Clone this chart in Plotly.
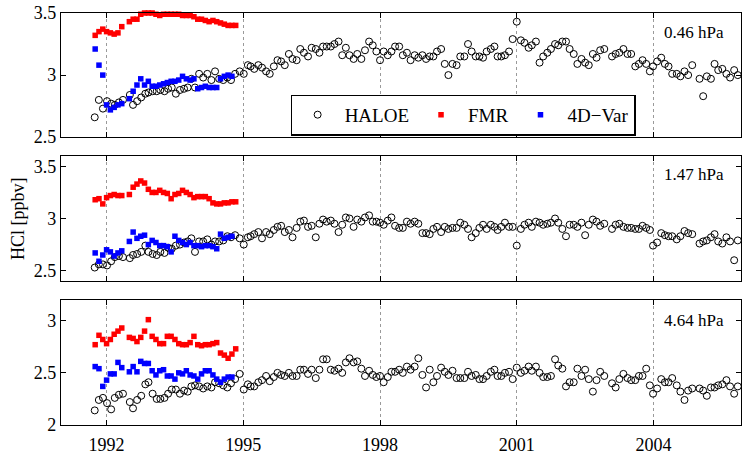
import plotly.graph_objects as go
from plotly.subplots import make_subplots
import pandas as pd

# ---------------- data ----------------
# model (FMR / 4D-Var) monthly time axis Oct 1991 .. Nov 1994
model_months = pd.date_range("1991-10-01", "1994-11-01", freq="MS")
model_t = [d.year + (d.month - 1) / 12 for d in model_months]

fmr_046 = [3.32, 3.35, 3.37, 3.35, 3.34, 3.33, 3.34, 3.39, None,
           3.43, 3.45, 3.45, 3.49, 3.50, 3.50, 3.50, 3.49, 3.48, 3.49,
           3.49, 3.49, 3.49, 3.49, 3.48, 3.48, 3.48, 3.47, 3.45, 3.45,
           3.44, 3.43, 3.44, 3.43, 3.42, 3.41, 3.40, 3.40, 3.40]
var_046 = [3.21, 3.08, 3.00, 2.76, 2.72, 2.74, 2.76, 2.77, None,
           2.81, 2.87, 2.92, 2.97, 2.92, 2.95, 2.91, 2.91, 2.92, 2.93,
           2.94, 2.95, 2.95, 2.96, 2.99, 2.97, 2.96, 2.97, 2.89, 2.90,
           2.91, 2.90, 2.90, 2.90, 2.97, 2.99, 3.00, 2.99]

fmr_147 = [3.18, 3.19, 3.14, 3.20, 3.22, 3.23, 3.22, 3.22, None,
           3.23, 3.30, 3.33, 3.36, 3.34, 3.28, 3.25, 3.25, 3.27, 3.25,
           3.24, 3.19, 3.23, 3.24, 3.27, 3.25, 3.23, 3.20, 3.21, 3.21,
           3.21, 3.19, 3.15, 3.14, 3.14, 3.15, 3.15, 3.16, 3.16]
var_147 = [2.67, 2.59, 2.65, 2.70, 2.68, 2.64, 2.67, 2.69, None,
           2.78, 2.87, 2.81, 2.83, 2.84, 2.75, 2.79, 2.77, 2.74, 2.74,
           2.73, 2.68, 2.83, 2.79, 2.77, 2.75, 2.77, 2.74, 2.74, 2.73,
           2.74, 2.74, 2.73, 2.71, 2.85, 2.81, 2.82, 2.83]

fmr_464 = [2.77, 2.86, 2.82, 2.78, 2.82, 2.87, 2.90, 2.93, None,
           2.84, 2.83, 2.80, 2.84, 2.90, 3.01,
           2.85, 2.82, 2.78, 2.78, 2.85, 2.85, 2.82, 2.78, 2.77, 2.77,
           2.79, 2.85, 2.77, 2.76, 2.77, 2.77, 2.78, 2.79, 2.69, 2.67,
           2.64, 2.68, 2.73]
var_464 = [2.56, 2.54, 2.37, 2.43, 2.49, 2.49, 2.60, 2.55, None,
           2.51, 2.56, 2.51, 2.61, 2.59, 2.59, 2.52, 2.48, 2.52, 2.53,
           2.47, 2.47, 2.44, 2.50, 2.49, 2.52, 2.48, 2.47, 2.44, 2.49,
           2.52, 2.52, 2.48, 2.44, 2.41, 2.44, 2.46, 2.46]

# HALOE observation times (decimal year)
haloe_t = [
    1991.74, 1991.83, 1991.92, 1992.01, 1992.10, 1992.18, 1992.27, 1992.36,
    1992.51, 1992.58, 1992.67, 1992.76, 1992.85, 1992.92, 1993.01, 1993.10,
    1993.18, 1993.27, 1993.35, 1993.43, 1993.52, 1993.61, 1993.70, 1993.78,
    1993.86, 1993.94, 1994.03, 1994.12, 1994.21, 1994.30, 1994.38, 1994.47,
    1994.56, 1994.65, 1994.73, 1994.82, 1994.92, 1995.01, 1995.10,
    1995.16, 1995.24, 1995.33, 1995.41, 1995.50, 1995.58, 1995.67, 1995.75,
    1995.83, 1995.91, 1996.00, 1996.08, 1996.17, 1996.25, 1996.33, 1996.42,
    1996.50, 1996.59, 1996.67, 1996.75, 1996.83, 1996.92, 1997.00, 1997.09,
    1997.17, 1997.25, 1997.33, 1997.42, 1997.50, 1997.59, 1997.67, 1997.76,
    1997.84, 1997.92, 1998.00, 1998.08, 1998.17, 1998.25, 1998.33, 1998.42,
    1998.50, 1998.59, 1998.67, 1998.76, 1998.84, 1998.93, 1999.01, 1999.09,
    1999.17, 1999.25, 1999.34, 1999.42, 1999.50, 1999.59, 1999.68, 1999.76,
    1999.85, 1999.93, 2000.01, 2000.10, 2000.18, 2000.26, 2000.34, 2000.43,
    2000.51,
    2000.58, 2000.66, 2000.74, 2000.83, 2000.91, 2001.00, 2001.09, 2001.17,
    2001.26, 2001.33, 2001.42, 2001.50, 2001.58, 2001.67, 2001.75, 2001.84,
    2001.91, 2002.00, 2002.08, 2002.16, 2002.25, 2002.33, 2002.42, 2002.50,
    2002.58, 2002.67, 2002.75, 2002.83, 2002.92,
    2003.09, 2003.17, 2003.25, 2003.34, 2003.43, 2003.51, 2003.60, 2003.68,
    2003.76, 2003.84, 2003.92, 2003.99, 2004.08, 2004.17, 2004.25, 2004.33,
    2004.41, 2004.51, 2004.59, 2004.68, 2004.76, 2004.85,
    2005.01, 2005.09, 2005.17, 2005.26, 2005.34, 2005.42, 2005.51, 2005.60,
    2005.68, 2005.77, 2005.85,
]

haloe_046 = [
    2.66, 2.80, 2.73, 2.79, 2.77, 2.76, 2.78, 2.80,
    2.84, 2.76, 2.79, 2.82, 2.85, 2.86, 2.87, 2.87, 2.88, 2.87,
    2.89, 2.90, 2.85, 2.88, 2.89, 2.90, 2.97, 2.90, 3.01, 2.98,
    3.01, 2.96, 3.03, 2.97, 2.96, 2.98, 2.96, 3.01, 3.03, 3.01, 3.08,
    3.07, 3.05, 3.08, 3.06, 3.03, 3.01, 3.07, 3.12, 3.11, 3.08,
    3.17, 3.13, 3.12, 3.21, 3.18, 3.15, 3.22, 3.21, 3.18, 3.23,
    3.23, 3.23, 3.25, 3.27, 3.16, 3.22, 3.16, 3.13, 3.17, 3.13,
    3.20, 3.27, 3.24, 3.19, 3.12, 3.19, 3.16, 3.19, 3.23, 3.23,
    3.16, 3.18, 3.12, 3.16, 3.14, 3.16, 3.13, 3.15, 3.15, 3.19,
    3.21, 3.09, 3.00, 3.09, 3.08, 3.15, 3.15, 3.25, 3.19, 3.15,
    3.15, 3.14, 3.19, 3.21, 3.23,
    3.15, 3.15, 3.16, 3.19, 3.29, 3.43, 3.28, 3.26, 3.22, 3.24,
    3.27, 3.10, 3.15, 3.18, 3.21, 3.25, 3.24, 3.27, 3.27, 3.21,
    3.17, 3.09, 3.13, 3.10, 3.08, 3.17, 3.14, 3.20, 3.21,
    3.15, 3.17, 3.18, 3.21, 3.17, 3.17, 3.07, 3.09, 3.12, 3.09,
    3.03, 3.07, 3.11, 3.14, 3.09, 3.07, 3.01, 3.01, 2.99, 3.03,
    3.00, 3.08,
    2.97, 2.83, 2.99, 2.97, 3.09, 3.04, 3.05, 3.01, 2.98, 3.04, 3.00,
]
haloe_147 = [
    2.53, 2.56, 2.56, 2.55, 2.59, 2.63, 2.64, 2.63,
    2.62, 2.65, 2.66, 2.68, 2.74, 2.68, 2.66, 2.65, 2.68, 2.67,
    2.72, 2.71, 2.74, 2.75, 2.77, 2.78, 2.81, 2.68, 2.78, 2.78,
    2.80, 2.75, 2.78, 2.78, 2.79, 2.83, 2.82, 2.84, 2.81, 2.75, 2.82,
    2.83, 2.85, 2.87, 2.81, 2.87, 2.85, 2.89, 2.92, 2.93, 2.87,
    2.89, 2.82, 2.91, 2.97, 2.98, 2.92, 2.93, 2.82, 2.95, 2.99,
    2.97, 2.98, 2.95, 2.87, 2.94, 3.01, 3.00, 2.92, 2.99, 2.97,
    3.01, 3.03, 2.97, 2.97, 2.96, 2.94, 2.98, 3.01, 2.93, 2.91,
    2.91, 2.97, 2.95, 2.97, 2.95, 2.86, 2.86, 2.85, 2.90, 2.92,
    2.87, 2.92, 2.90, 2.91, 2.91, 2.96, 2.94, 2.90, 2.82, 2.86,
    2.91, 2.94, 2.90, 2.94, 2.92,
    2.89, 2.92, 2.96, 2.92, 2.92, 2.74, 2.90, 2.94, 2.96, 2.92,
    2.97, 2.96, 2.94, 2.95, 2.96, 3.00, 2.96, 2.90, 2.83, 2.94,
    2.94, 2.92, 2.96, 2.84, 2.94, 2.99, 2.97, 2.93, 2.95,
    2.90, 2.94, 2.95, 2.92, 2.91, 2.91, 2.90, 2.90, 2.93, 2.91,
    2.89, 2.74, 2.77, 2.86, 2.84, 2.83, 2.83, 2.80, 2.83, 2.88,
    2.86, 2.85,
    2.76, 2.78, 2.79, 2.82, 2.85, 2.78, 2.76, 2.82, 2.78, 2.60, 2.79,
]
haloe_464 = [
    2.14, 2.24, 2.26, 2.21, 2.15, 2.26, 2.29, 2.30,
    2.22, 2.16, 2.24, 2.28, 2.39, 2.41, 2.30, 2.25, 2.25, 2.26,
    2.30, 2.34, 2.34, 2.30, 2.33, 2.32, 2.37, 2.38, 2.37, 2.35,
    2.37, 2.36, 2.41, 2.40, 2.38, 2.36, 2.40, 2.44, 2.49, 2.34, 2.39,
    2.37, 2.37, 2.41, 2.43, 2.47, 2.42, 2.46, 2.50, 2.48, 2.47,
    2.50, 2.47, 2.47, 2.53, 2.53, 2.49, 2.53, 2.45, 2.53, 2.63,
    2.63, 2.53, 2.52, 2.54, 2.50, 2.60, 2.64, 2.60, 2.61, 2.54,
    2.47, 2.52, 2.48, 2.46, 2.47, 2.41, 2.46, 2.51, 2.51, 2.53,
    2.50, 2.56, 2.53, 2.56, 2.64, 2.48, 2.36, 2.53, 2.41, 2.47,
    2.55, 2.51, 2.48, 2.52, 2.45, 2.45, 2.45, 2.51, 2.47, 2.48,
    2.44, 2.44, 2.47, 2.51, 2.53,
    2.47, 2.47, 2.50, 2.51, 2.44, 2.55, 2.50, 2.52, 2.56, 2.52,
    2.56, 2.50, 2.46, 2.46, 2.47, 2.63, 2.57, 2.54, 2.37, 2.41,
    2.41, 2.54, 2.47, 2.53, 2.44, 2.32, 2.43, 2.51, 2.47,
    2.40, 2.36, 2.44, 2.49, 2.45, 2.43, 2.43, 2.47, 2.47, 2.54,
    2.38, 2.30, 2.35, 2.44, 2.41, 2.41, 2.45, 2.38, 2.32, 2.24,
    2.33, 2.35,
    2.35, 2.33, 2.28, 2.36, 2.36, 2.38, 2.39, 2.43, 2.37, 2.30, 2.37,
]

panel_labels = ["0.46 hPa", "1.47 hPa", "4.64 hPa"]
year_ticks = [1992, 1995, 1998, 2001, 2004]
series_names = ["HALOE", "FMR", "4D\u2212Var"]

panels = [
    (haloe_046, fmr_046, var_046, [2.5, 3.5], [2.5, 3, 3.5], 3.34),
    (haloe_147, fmr_147, var_147, [2.4, 3.6], [2.5, 3, 3.5], 3.42),
    (haloe_464, fmr_464, var_464, [2.0, 3.2], [2, 2.5, 3], 3.0),
]

# ---------------- figure ----------------
FONT = "Liberation Serif"
fig = make_subplots(rows=3, cols=1, shared_xaxes=True, vertical_spacing=0.04)

for i, (h, f, v, yr, yt, ly) in enumerate(panels):
    row = i + 1
    first = (i == 0)
    fig.add_trace(go.Scatter(
        x=haloe_t[:len(h)], y=h, mode="markers", name=series_names[0],
        showlegend=first, legendgroup="h", cliponaxis=False,
        marker=dict(symbol="circle-open", size=7, color="black",
                    line=dict(width=1, color="black")),
    ), row=row, col=1)
    fig.add_trace(go.Scatter(
        x=model_t[:len(f)], y=f, mode="markers", name=series_names[1],
        showlegend=first, legendgroup="f", cliponaxis=False,
        marker=dict(symbol="square", size=5.5, color="#ff0000",
                    line=dict(width=0)),
    ), row=row, col=1)
    fig.add_trace(go.Scatter(
        x=model_t[:len(v)], y=v, mode="markers", name=series_names[2],
        showlegend=first, legendgroup="v", cliponaxis=False,
        marker=dict(symbol="square", size=5.5, color="#0000ff",
                    line=dict(width=0)),
    ), row=row, col=1)

    fig.update_yaxes(range=yr, tickvals=yt, ticktext=[f"{t:g}" for t in yt],
                     row=row, col=1)
    fig.add_annotation(text=panel_labels[i], x=2004.18, y=ly,
                       xref=f"x{'' if row == 1 else row}",
                       yref=f"y{'' if row == 1 else row}",
                       xanchor="left", yanchor="middle", showarrow=False,
                       font=dict(family=FONT, size=17, color="black"))

domains = [[0.6986, 1.0], [0.3493, 0.6531], [0.0, 0.3038]]
for i, d in enumerate(domains):
    fig.update_yaxes(domain=d, row=i + 1, col=1)

fig.update_xaxes(range=[1991.0, 2005.92], tickvals=year_ticks,
                 ticks="inside", ticklen=5, tickwidth=1, tickcolor="black",
                 showline=True, linecolor="black", linewidth=1.3, mirror="ticks",
                 showgrid=True, gridcolor="#9a9a9a", gridwidth=1, griddash="dot",
                 zeroline=False,
                 tickfont=dict(family=FONT, size=18, color="black"))
fig.update_xaxes(showticklabels=False, row=1, col=1)
fig.update_xaxes(showticklabels=False, row=2, col=1)
fig.update_xaxes(ticklabelstandoff=3, row=3, col=1)
fig.update_yaxes(ticks="inside", ticklen=5, tickwidth=1, tickcolor="black",
                 showline=True, linecolor="black", linewidth=1.3, mirror="ticks",
                 showgrid=False, zeroline=False,
                 tickfont=dict(family=FONT, size=18, color="black"))

fig.add_annotation(text="HCl [ppbv]", xref="paper", yref="paper",
                   x=-0.064, y=0.5012, textangle=-90, showarrow=False,
                   xanchor="center", yanchor="middle",
                   font=dict(family=FONT, size=18, color="black"))

fig.update_layout(
    width=742, height=455,
    margin=dict(l=61, r=0, t=13, b=24),
    paper_bgcolor="white", plot_bgcolor="white",
    font=dict(family=FONT, size=18, color="black"),
    legend=dict(orientation="h", x=0.3377, xanchor="left",
                y=0.7524, yanchor="middle",
                bgcolor="white", bordercolor="black", borderwidth=1.3,
                itemwidth=44,
                font=dict(family=FONT, size=19, color="black")),
)

fig.write_html("out.html", config={"displayModeBar": False})
